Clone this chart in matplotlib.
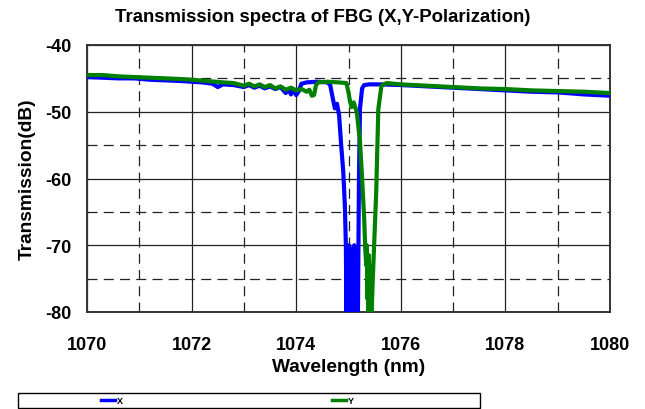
import matplotlib.pyplot as plt
from matplotlib.lines import Line2D
from matplotlib.patches import Rectangle

plt.rcParams['font.family'] = ['Liberation Sans', 'DejaVu Sans']
plt.rcParams['font.weight'] = 'bold'
plt.rcParams['axes.unicode_minus'] = False

# X polarization (blue)
wl_x = [1070.0, 1070.3, 1070.6, 1070.9, 1071.2, 1071.5, 1071.8, 1072.0, 1072.2, 1072.4,
        1072.5, 1072.6, 1072.8, 1073.0, 1073.1, 1073.2, 1073.3, 1073.4, 1073.5, 1073.6,
        1073.7, 1073.8, 1073.85, 1073.9, 1073.95, 1074.0, 1074.05, 1074.1, 1074.2, 1074.4,
        1074.6, 1074.65, 1074.7, 1074.74, 1074.78, 1074.82, 1074.86, 1074.9, 1074.93, 1074.95,
        1074.96, 1074.97, 1074.98, 1074.99, 1075.0, 1075.01, 1075.02, 1075.03, 1075.04,
        1075.05, 1075.06, 1075.07, 1075.08, 1075.09, 1075.1, 1075.11, 1075.12, 1075.13,
        1075.14, 1075.15, 1075.16, 1075.17, 1075.18, 1075.2, 1075.22, 1075.26, 1075.3, 1075.4,
        1075.6, 1076.0, 1076.5, 1077.0, 1077.5, 1078.0, 1078.5, 1079.0, 1079.5, 1080.0]
tr_x = [-44.8, -44.9, -45.0, -45.0, -45.2, -45.3, -45.4, -45.5, -45.6, -45.8,
        -46.3, -45.9, -46.0, -46.3, -46.0, -46.4, -46.1, -46.5, -46.2, -46.6,
        -46.3, -47.2, -46.6, -47.4, -46.8, -47.5, -46.9, -45.8, -45.6, -45.5,
        -45.6, -46.0, -48.0, -49.5, -48.8, -50.5, -55.0, -59.0, -64.0, -70.0,
        -80.5, -70.5, -80.5, -72.0, -80.5, -70.0, -80.5, -71.5, -80.5,
        -70.5, -80.5, -72.5, -80.5, -71.0, -80.5, -70.0, -80.5, -72.0,
        -80.5, -70.5, -80.5, -71.0, -80.5, -60.0, -49.5, -46.5, -46.0, -45.9,
        -45.9, -46.0, -46.2, -46.4, -46.6, -46.8, -47.0, -47.1, -47.4, -47.6]

# Y polarization (green)
wl_y = [1070.0, 1070.3, 1070.6, 1070.9, 1071.2, 1071.5, 1071.8, 1072.0, 1072.3, 1072.6,
        1072.8, 1073.0, 1073.1, 1073.2, 1073.3, 1073.4, 1073.5, 1073.6, 1073.7, 1073.8,
        1073.9, 1074.0, 1074.1, 1074.2, 1074.25, 1074.3, 1074.34, 1074.38, 1074.42, 1074.6,
        1074.8, 1074.96, 1075.0, 1075.03, 1075.06, 1075.1, 1075.16, 1075.22, 1075.26, 1075.3,
        1075.32, 1075.34, 1075.35, 1075.36, 1075.37, 1075.38, 1075.39, 1075.4, 1075.41,
        1075.42, 1075.43, 1075.44, 1075.46, 1075.49, 1075.53, 1075.57,
        1075.63, 1075.73, 1076.0, 1076.5, 1077.0, 1077.5, 1078.0, 1078.5, 1079.0, 1079.5, 1080.0]
tr_y = [-44.5, -44.5, -44.7, -44.8, -44.9, -45.0, -45.1, -45.2, -45.4, -45.6,
        -45.7, -46.1, -45.8, -46.2, -45.9, -46.3, -46.0, -46.5, -46.2, -46.7,
        -46.4, -46.8, -46.6, -47.0, -46.7, -47.6, -47.5, -46.0, -45.6, -45.5,
        -45.6, -45.7, -47.1, -48.5, -49.3, -48.6, -50.1, -54.5, -60.0, -66.0,
        -70.5, -73.0, -70.0, -78.0, -72.0, -80.0, -71.5, -79.0, -73.0,
        -80.5, -74.0, -80.5, -76.0, -70.0, -62.0, -49.6,
        -46.1, -45.7, -45.9, -46.1, -46.3, -46.5, -46.6, -46.8, -46.9, -47.0, -47.2]

xticks = [1070, 1072, 1074, 1076, 1078, 1080]
yticks = [-80, -70, -60, -50, -40]

fig = plt.figure(figsize=(6.45, 4.1), dpi=100)
ax = fig.add_axes([87 / 645, 1 - 313 / 410, 523 / 645, 267 / 410])

ax.plot(wl_x, tr_x, color='#0000FF', lw=3, label='X', zorder=3)
ax.plot(wl_y, tr_y, color='#008000', lw=3, label='Y', zorder=4)

ax.set_xlim(1070, 1080)
ax.set_ylim(-80, -40)
ax.set_xticks(xticks)
ax.set_yticks(yticks)
ax.set_xticks([1071, 1073, 1075, 1077, 1079], minor=True)
ax.set_yticks([-75, -65, -55, -45], minor=True)
ax.grid(which='major', color='#222222', lw=0.9, ls='-')
ax.grid(which='minor', color='#222222', lw=0.9, ls=(0, (8, 5)))
ax.tick_params(which='both', length=0)
ax.tick_params(axis='y', pad=11, labelsize=13)
ax.tick_params(axis='x', pad=17, labelsize=13)
for s in ax.spines.values():
    s.set_color('#333333')
    s.set_linewidth(1.4)

fig.text(0.5, 1 - 18 / 410, 'Transmission spectra of FBG (X,Y-Polarization)',
         ha='center', va='center', fontsize=13.4, fontweight='bold')
ax.set_xlabel('Wavelength (nm)', fontsize=13.8, fontweight='bold', labelpad=4)
ax.set_ylabel('Transmission(dB)', fontsize=13.8, fontweight='bold', labelpad=7)

# legend strip under the plot
fig.add_artist(Rectangle((18 / 645, 1 - 409 / 410), 462 / 645, 15 / 410,
                         transform=fig.transFigure, fill=False, ec='black', lw=1))
hx = Line2D([], [], color='#0000FF', lw=2.5)
hy = Line2D([], [], color='#008000', lw=2.5)
fig.legend([hx], ['X'], loc='center', bbox_to_anchor=(112 / 645, 1 - 402 / 410),
           frameon=False, handlelength=1.6, handletextpad=0.2,
           borderpad=0, prop={'weight': 'bold', 'size': 6.5})
fig.legend([hy], ['Y'], loc='center', bbox_to_anchor=(343 / 645, 1 - 402 / 410),
           frameon=False, handlelength=1.6, handletextpad=0.2,
           borderpad=0, prop={'weight': 'bold', 'size': 6.5})

fig.savefig('out.png', dpi=100)
